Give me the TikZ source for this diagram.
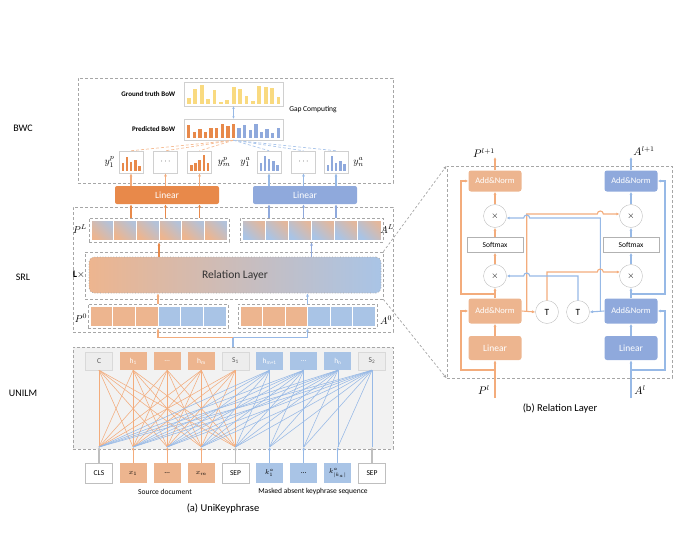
\documentclass[tikz,border=0pt]{standalone}
\usepackage{fontspec}
\setmainfont{Carlito}
\usetikzlibrary{arrows.meta,calc}

\definecolor{orD}{HTML}{E8894A}
\definecolor{blD}{HTML}{8FA9DC}
\definecolor{orL}{HTML}{EDB58F}
\definecolor{blL}{HTML}{A9C4E6}
\definecolor{orLn}{HTML}{F3AC7C}
\definecolor{blLn}{HTML}{97B9E6}
\definecolor{yelB}{HTML}{F9DA80}
\definecolor{dashG}{HTML}{A6A6A6}
\definecolor{boxG}{HTML}{D0D0D0}
\definecolor{uniG}{HTML}{F2F2F2}
\definecolor{txtG}{HTML}{595959}

\newcommand{\fs}[1]{\fontsize{#1}{#1}\selectfont}
% bars of a small histogram: x0, base y, step, max height, colour, heights
\newcommand{\drawbars}[6]{%
  \foreach \bh [count=\bi from 0] in {#6}
    \fill[#5] ({#1+\bi*#3},#2) rectangle ++({0.6*#3},{-\bh*#4});
}

\tikzset{
  dbox/.style={draw=dashG,dash pattern=on 3pt off 2pt,line width=0.7pt,inner sep=0pt},
  chart/.style={draw=boxG,fill=white,inner sep=0pt,line width=0.5pt},
  mini/.style={chart,minimum width=24pt,minimum height=22pt,font=\fs{8}},
  linbox/.style={rounded corners=2pt,inner sep=0pt,text=white,font=\fs{9.5},minimum width=104pt,minimum height=18pt},
  tok/.style={inner sep=0pt,minimum width=27pt,minimum height=18pt,font=\fs{7.5}},
  gtok/.style={tok,fill=black!7,draw=black!15,text=txtG},
  otok/.style={tok,fill=orL,text=white},
  btok/.style={tok,fill=blL,text=white},
  wtok/.style={tok,minimum height=20pt,fill=white,draw=black!25},
  oxtok/.style={tok,minimum height=20pt,fill=orL},
  bxtok/.style={tok,minimum height=20pt,fill=blL},
  oln/.style={draw=orLn,line width=0.55pt},
  bln/.style={draw=blLn,line width=0.55pt},
  arrtip/.style={-{Latex[length=3.2pt,width=3pt]}},
  oarr/.style={draw=orLn,line width=1.1pt,arrtip},
  odarr/.style={draw=orD,line width=1.1pt,arrtip},
  barr/.style={draw=blLn,line width=1.1pt,arrtip},
  bdarr/.style={draw=blD,line width=1.1pt,arrtip},
  garr/.style={draw=black!25,line width=1.1pt,arrtip},
  anbox/.style={rounded corners=2.5pt,inner sep=0pt,minimum width=53pt,minimum height=21pt,text=white,font=\fs{8.5}},
  mulc/.style={circle,draw=black!25,fill=white,inner sep=0pt,minimum size=23pt,font=\fs{9.5}},
  smbox/.style={draw=black!30,fill=white,inner sep=0pt,minimum width=56pt,minimum height=15pt,font=\fs{7.5}},
  zoomln/.style={draw=dashG,dash pattern=on 2.5pt off 2pt,line width=0.7pt,-{Latex[length=3.5pt,width=3pt]}},
  mlab/.style={font=\fs{10},inner sep=1pt},
}

\begin{document}
\begin{tikzpicture}[x=1pt,y=-1pt]
\useasboundingbox (0,0) rectangle (680,533);

% section labels
\node[font=\fs{10}] (lbwc) at (23,128) {BWC};
\node[font=\fs{10}] (lsrl) at (23,277) {SRL};
\node[font=\fs{10}] (luni) at (23,393) {UNILM};

% ---------------- SRL
\node[dbox,minimum width=320pt,minimum height=125pt] (srlbox) at (233,269.5) {};
\node[dbox,minimum width=140pt,minimum height=24pt] (plbox) at (159,230) {};
\node[dbox,minimum width=143pt,minimum height=24pt] (albox) at (311.5,230) {};
\foreach \i in {0,...,5}
  \shadedraw[draw=white,line width=0.8pt,left color=orL,right color=blL!85!orL,shading angle=135] ({91+\i*22.67},220) rectangle ++(22.67,20);
\foreach \i in {0,...,5}
  \shadedraw[draw=white,line width=0.8pt,left color=blL,right color=orL!85!blL,shading angle=135] ({242+\i*23.17},220) rectangle ++(23.17,20);
\node[dbox,minimum width=298pt,minimum height=47pt] (lxbox) at (234,275.5) {};
\node[draw=black!35,dotted,line width=0.7pt,rounded corners=5pt,left color=orL,right color=blL,minimum width=292pt,minimum height=36pt,font=\fs{11.5},text=black!80] (rl) at (235,275) {Relation Layer};
\node[dbox,minimum width=140pt,minimum height=24pt] (p0box) at (158,316) {};
\node[dbox,minimum width=139pt,minimum height=24pt] (a0box) at (307.5,316) {};
\foreach \i in {0,1,2} {
  \filldraw[draw=white,line width=0.8pt,fill=orL] ({90+\i*22.67},306) rectangle ++(22.67,20);
  \filldraw[draw=white,line width=0.8pt,fill=orL] ({240+\i*22.5},306) rectangle ++(22.5,20);
}
\foreach \i in {3,4,5} {
  \filldraw[draw=white,line width=0.8pt,fill=blL] ({90+\i*22.67},306) rectangle ++(22.67,20);
  \filldraw[draw=white,line width=0.8pt,fill=blL] ({240+\i*22.5},306) rectangle ++(22.5,20);
}
\node[mlab] (lpl) at (80,229) {$P^{L}$};
\node[mlab] (lal) at (387,229) {$A^{L}$};
\node[mlab] (llx) at (79,275) {$\mathbf{L}\times$};
\node[mlab] (lp0) at (81,318) {$P^{0}$};
\node[mlab] (la0) at (386,320) {$A^{0}$};
\draw[oarr] (p0box.north) -- (p0box.north |- rl.south);
\draw[barr] (a0box.north) -- (a0box.north |- rl.south);
\draw[odarr] (rl.north -| plbox.south) -- (plbox.south);
\draw[bdarr] (rl.north -| albox.south) -- (albox.south);

% ---------------- BWC
\node[dbox,minimum width=315pt,minimum height=105pt] (bwcbox) at (235.5,130.5) {};
\node[chart,minimum width=99pt,minimum height=24pt] (gt) at (233.5,94) {};
\drawbars{187}{104}{6.4}{20}{yelB}{0.3,0.75,0.95,0.25,0.7,0.1,0.2,0.85,0.75,0.4,0.15,0.9,0.85,0.8,0.35}
\node[chart,minimum width=99pt,minimum height=21pt] (pred) at (233.5,129.5) {};
\drawbars{187}{138}{5.6}{17}{orD}{0.75,0.35,0.55,0.35,0.6,0.6,0.8,0.7,0.8}
\drawbars{237.4}{138}{5.6}{17}{blD}{0.6,0.75,0.45,0.85,0.35,0.55,0.3,0.6}
\node[font=\bfseries\fs{7},left=5pt] (lgt) at (gt.west) {Ground truth BoW};
\node[font=\bfseries\fs{7},left=5pt] (lpred) at (pred.west) {Predicted BoW};
\node[font=\fs{7.5}] (lgap) at (313,110) {Gap Computing};
\draw[draw=blLn,line width=0.9pt,{Latex[length=2.5pt,width=2.5pt]}-{Latex[length=2.5pt,width=2.5pt]}] (gt.south) -- (pred.north);

\node[mini] (cp1) at (131,162) {};
\node[mini] (cp2) at (165.5,162) {$\cdots$};
\node[mini] (cp3) at (199.5,162) {};
\node[mini] (ca1) at (269,162) {};
\node[mini] (ca2) at (303.5,162) {$\cdots$};
\node[mini] (ca3) at (336,162) {};
\drawbars{121.5}{171}{4.2}{17}{orD}{0.5,0.85,0.55,0.65,0.3}
\drawbars{190}{171}{4.2}{17}{orD}{0.35,0.5,0.65,0.95,0.5}
\drawbars{259.5}{171}{4.2}{17}{blD}{0.45,0.9,0.7,0.6,0.35}
\drawbars{326.5}{171}{4.2}{17}{blD}{0.35,0.9,0.5,0.6,0.4}
\node[mlab,left=3pt] (ly1p) at (cp1.west) {$y_1^{p}$};
\node[mlab,right=5pt] (lymp) at (cp3.east) {$y_m^{p}$};
\node[mlab,left=5pt] (ly1a) at (ca1.west) {$y_1^{a}$};
\node[mlab,right=4pt] (lyna) at (ca3.east) {$y_n^{a}$};
\foreach \c in {cp1,cp2,cp3}
  \draw[draw=orLn!80,line width=0.7pt,dash pattern=on 3pt off 2pt] (pred.south) -- (\c.north);
\foreach \c in {ca1,ca2,ca3}
  \draw[draw=blLn!80,line width=0.7pt,dash pattern=on 3pt off 2pt] (pred.south) -- (\c.north);

\node[linbox,fill=orD] (linP) at (167,195) {Linear};
\node[linbox,fill=blD] (linA) at (305,195) {Linear};
\foreach \c in {cp1,cp2,cp3} {
  \draw[oarr] (\c |- linP.north) -- (\c.south);
  \draw[odarr] (\c |- plbox.north) -- (\c |- linP.south);
}
\foreach \c in {ca1,ca2,ca3} {
  \draw[barr] (\c |- linA.north) -- (\c.south);
  \draw[bdarr] (\c |- albox.north) -- (\c |- linA.south);
}

% ---------------- UNILM
\node[dbox,fill=uniG,minimum width=320pt,minimum height=102pt] (unibox) at (233,398) {};
\foreach \lab/\sty [count=\i] in {C/gtok,h\textsubscript{1}/otok,\dots/otok,h\textsubscript{m}/otok,S\textsubscript{1}/gtok,h\textsubscript{m+1}/btok,\dots/btok,h\textsubscript{n}/btok,S\textsubscript{2}/gtok}
  \node[\sty] (t\i) at ({99+34.125*(\i-1)},361) {\lab};
\foreach \lab/\sty/\ac [count=\i] in {CLS/wtok/garr,{$x_1$}/oxtok/oarr,\dots/oxtok/oarr,{$x_m$}/oxtok/oarr,SEP/wtok/garr,{$k^{a}_{1}$}/bxtok/barr,\dots/bxtok/barr,{$k^{a}_{|k_a|}$}/bxtok/barr,SEP/wtok/garr} {
  \node[\sty] (b\i) at ({99+34.125*(\i-1)},473) {\lab};
  \coordinate (u\i) at ({99+34.125*(\i-1)},447);
  \draw[\ac] (b\i.north) -- (u\i);
}
\foreach \i in {1,...,5}
  \foreach \j in {1,...,5}
    \draw[oln] (u\i) -- (t\j.south);
\foreach \i in {1,...,5}
  \foreach \j in {6,...,9}
    \draw[bln] (u\i) -- (t\j.south);
\foreach \i in {6,...,9}
  \foreach \j in {\i,...,9}
    \draw[bln] (u\i) -- (t\j.south);
\draw[draw=blLn,line width=1.1pt] (unibox.north) -- ++(0,-9) coordinate (jn);
\draw[oarr] (jn) -| (p0box.south);
\draw[barr] (jn) -| (a0box.south);

\node[font=\fs{7.5}] (lsrc) at (165,492) {Source document};
\node[font=\fs{7.5}] (lmask) at (313,491) {Masked absent keyphrase sequence};
\node[font=\fs{10.5}] (capa) at (223,508) {(a) UniKeyphrase};

% ---------------- Relation Layer (detail)
\node[dbox,minimum width=225pt,minimum height=212pt] (rlbox) at (559.5,272) {};
\draw[zoomln] (lxbox.north east) -- (rlbox.north west);
\draw[zoomln] (lxbox.south east) -- (rlbox.south west);

\node[anbox,fill=orL] (anL2) at (495,181) {Add\&Norm};
\node[anbox,fill=blD] (anR2) at (631,181) {Add\&Norm};
\node[mulc] (mL2) at (495,216) {$\times$};
\node[mulc] (mR2) at (631,216) {$\times$};
\node[smbox] (smL) at (495,245) {Softmax};
\node[smbox] (smR) at (631,245) {Softmax};
\node[mulc] (mL1) at (495,276) {$\times$};
\node[mulc] (mR1) at (631,276) {$\times$};
\node[anbox,fill=orL,minimum height=25pt] (anL1) at (495,311) {Add\&Norm};
\node[anbox,fill=blD,minimum height=25pt] (anR1) at (631,311) {Add\&Norm};
\node[mulc] (tP) at (547,312) {T};
\node[mulc] (tA) at (578,312) {T};
\node[anbox,fill=orL,minimum height=24pt,font=\fs{9.5}] (linL) at (495,348) {Linear};
\node[anbox,fill=blD,minimum height=24pt,font=\fs{9.5}] (linR) at (631,348) {Linear};
\coordinate (inL) at (495,398);
\coordinate (inR) at (631,398);
\coordinate (outL) at (495,157);
\coordinate (outR) at (631,157);
\node[font=\fs{10.5}] (lpl1) at (484,153) {$P^{l+1}$};
\node[font=\fs{10.5}] (lal1) at (644,151) {$A^{l+1}$};
\node[font=\fs{10.5}] (lpl0) at (484,390) {$P^{l}$};
\node[font=\fs{10.5}] (lal0) at (640,390) {$A^{l}$};

% P side
\draw[oarr] (inL) -- (linL);
\draw[oarr] (linL) -- (anL1);
\draw[oarr] (anL1) -- (mL1);
\draw[oarr] (mL1) -- (smL);
\draw[oarr] (smL) -- (mL2);
\draw[oarr] (mL2) -- (anL2);
\draw[oarr] (anL2) -- (outL);
\coordinate (rL1) at (495,370);
\coordinate (rL2) at (495,294);
\draw[oarr] (rL1) -- ++(-34,0) |- (anL1.west);
\draw[oarr] (rL2) -- ++(-34,0) |- (anL2.west);
% A side
\draw[barr] (inR) -- (linR);
\draw[barr] (linR) -- (anR1);
\draw[barr] (anR1) -- (mR1);
\draw[barr] (mR1) -- (smR);
\draw[barr] (smR) -- (mR2);
\draw[barr] (mR2) -- (anR2);
\draw[barr] (anR2) -- (outR);
\coordinate (rR1) at (631,370);
\coordinate (rR2) at (631,294);
\draw[barr] (rR1) -- ++(34,0) |- (anR1.east);
\draw[barr] (rR2) -- ++(34,0) |- (anR2.east);

% cross connections
\draw[oarr] (anL1.east) -- (tP.west);
\draw[barr] (anR1.west) -- (tA.east);
\coordinate (oUp) at ($(anL1.east)+(5,0)$);
\coordinate (bUp) at ($(anR1.west)+(-4,0)$);
\draw[oarr] (oUp) |- ($(bUp |- mR2.170)+(-3,0)$) arc[start angle=180,end angle=360,radius=3] -- (mR2.170);
\draw[barr] (bUp) |- ($(oUp |- mL2.-10)+(3,0)$) arc[start angle=0,end angle=-180,radius=3] -- (mL2.-10);
\draw[oarr] (tP.north) |- ($(bUp |- mR1.160)+(-3,0)$) arc[start angle=180,end angle=360,radius=3] -- (mR1.160);
\draw[barr] (tA.north) |- ($(oUp |- mL1.east)+(3,0)$) arc[start angle=0,end angle=-180,radius=3] -- (mL1.east);

\node[font=\fs{10.5}] (capb) at (560,409) {(b) Relation Layer};
\end{tikzpicture}
\end{document}
